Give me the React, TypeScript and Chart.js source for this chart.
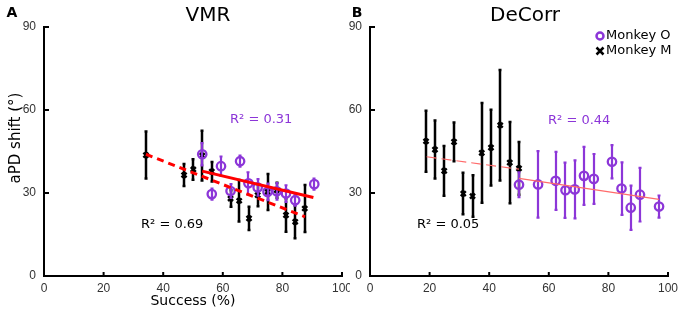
import { useEffect, useRef } from "react";
import { Chart, registerables } from "chart.js";
Chart.register(...registerables);

// ---------- data ----------
const xTickValues = [0, 20, 40, 60, 80, 100];
const yTickValues = [0, 30, 60, 90];

// VMR, Monkey M (black crosses)
const vmrMX = [34.2, 47, 50.1, 53.1, 56.3, 62.6, 65.5, 68.8, 71.7, 75, 78.1, 81.2, 84.3, 87.5];
const vmrMY = [43.7, 36.5, 38.5, 43.5, 37.7, 28, 27.2, 20.8, 29.2, 30.4, 31, 22, 19.6, 24.4];
const vmrMErr = [8.5, 4, 3.7, 9, 3.5, 3, 7.5, 4.2, 4, 6.5, 2.7, 6, 6, 8.5];
// VMR, Monkey O (purple circles)
const vmrOX = [53.1, 56.3, 59.4, 62.6, 65.8, 68.6, 71.7, 75, 78.1, 81.2, 84.3, 90.7];
const vmrOY = [44, 29.6, 39.7, 30.7, 41.5, 33.5, 32, 30.4, 30.6, 29.8, 27.4, 33.2];
const vmrOErr = [4, 2, 3.5, 2.5, 2, 4, 3, 3, 3, 3, 2, 2];
// VMR fits
const vmrFitMX = [34.2, 87.6];
const vmrFitMY = [44, 21.4];
const vmrFitOX = [53.1, 90.4];
const vmrFitOY = [37.9, 28.4];

// DeCorr, Monkey M
const decMX = [18.8, 21.8, 24.9, 28.2, 31.3, 34.4, 37.5, 40.6, 43.7, 46.9, 50];
const decMY = [48.7, 45.7, 38, 48.5, 29.8, 28.9, 44.5, 46.4, 54.5, 41, 38.9];
const decMErr = [11, 10.5, 9, 7, 7.5, 7.5, 18, 13.7, 20, 14.7, 9.5];
// DeCorr, Monkey O
const decOX = [50, 56.4, 62.3, 65.6, 68.7, 71.8, 75.1, 81.2, 84.4, 87.5, 90.6, 97];
const decOY = [33, 33.1, 34.4, 31, 31.3, 36.2, 35.1, 41.3, 31.6, 24.7, 29.4, 25.1];
const decOErr = [4.5, 12, 10.5, 10, 10.5, 10.5, 9, 6, 9.5, 8, 9.7, 4];
// DeCorr fits
const decFitMX = [19, 50];
const decFitMY = [43.1, 38.6];
const decFitOX = [50, 97];
const decFitOY = [35.3, 27.7];

const r2Labels = ["R² = 0.31", "R² = 0.69", "R² = 0.44", "R² = 0.05"];
const legendLabels = ["Monkey O", "Monkey M"];

// ---------- styles ----------
const PURPLE = "#8c36d8";
const FONT = "'DejaVu Sans', Verdana, sans-serif";
const TICK_FONT = "'Liberation Sans', Arial, sans-serif";

const pts = (xs: number[], ys: number[]) => xs.map((x, i) => ({ x, y: ys[i] }));

const errorBarPlugin = {
  id: "errbars",
  beforeDatasetDraw(chart: any, args: any) {
    const ds = chart.data.datasets[args.index];
    const err = ds.errors as number[] | undefined;
    if (!err) return;
    const xs = chart.scales.x;
    const ys = chart.scales.y;
    const ctx = chart.ctx;
    ctx.save();
    ctx.strokeStyle = ds.borderColor;
    ctx.lineWidth = ds.errWidth;
    ds.data.forEach((p: any, i: number) => {
      const x = Math.round(xs.getPixelForValue(p.x));
      const y1 = ys.getPixelForValue(p.y - err[i]);
      const y2 = ys.getPixelForValue(p.y + err[i]);
      ctx.beginPath();
      ctx.moveTo(x, y1);
      ctx.lineTo(x, y2);
      ctx.moveTo(x - 1.5, y1);
      ctx.lineTo(x + 1.5, y1);
      ctx.moveTo(x - 1.5, y2);
      ctx.lineTo(x + 1.5, y2);
      ctx.stroke();
    });
    ctx.restore();
  },
};

type TextItem = { text: string; x: number; y: number; font: string; color: string; align?: CanvasTextAlign; rotate?: boolean };

function makeDecorPlugin(offsetX: number, texts: TextItem[], legend: boolean) {
  return {
    id: "decor",
    afterDraw(chart: any) {
      const ctx = chart.ctx;
      const xs = chart.scales.x;
      const ys = chart.scales.y;
      const area = chart.chartArea;
      ctx.save();
      // inward ticks
      ctx.strokeStyle = "#000";
      ctx.lineWidth = 2;
      xTickValues.slice(1).forEach((v) => {
        const x = xs.getPixelForValue(v);
        ctx.beginPath();
        ctx.moveTo(x, area.bottom);
        ctx.lineTo(x, area.bottom - 4);
        ctx.stroke();
      });
      yTickValues.slice(1).forEach((v) => {
        const y = ys.getPixelForValue(v);
        ctx.beginPath();
        ctx.moveTo(area.left, y);
        ctx.lineTo(area.left + 5, y);
        ctx.stroke();
      });
      // texts
      texts.forEach((t) => {
        ctx.save();
        ctx.font = t.font;
        ctx.fillStyle = t.color;
        ctx.textAlign = t.align || "left";
        ctx.textBaseline = "middle";
        ctx.translate(t.x - offsetX, t.y);
        if (t.rotate) ctx.rotate(-Math.PI / 2);
        ctx.fillText(t.text, 0, 0);
        ctx.restore();
      });
      if (legend) {
        const lx = 600 - offsetX;
        ctx.strokeStyle = PURPLE;
        ctx.lineWidth = 2.5;
        ctx.beginPath();
        ctx.arc(lx, 36, 3.5, 0, Math.PI * 2);
        ctx.stroke();
        ctx.strokeStyle = "#000";
        ctx.lineWidth = 2.5;
        ctx.beginPath();
        ctx.moveTo(lx - 3.5, 47.5);
        ctx.lineTo(lx + 3.5, 54.5);
        ctx.moveTo(lx + 3.5, 47.5);
        ctx.lineTo(lx - 3.5, 54.5);
        ctx.stroke();
        ctx.font = `13px ${FONT}`;
        ctx.fillStyle = "#000";
        ctx.textAlign = "left";
        ctx.textBaseline = "middle";
        ctx.fillText(legendLabels[0], lx + 6, 36);
        ctx.fillText(legendLabels[1], lx + 6, 51);
      }
      ctx.restore();
    },
  };
}

function buildDatasets(
  oX: number[], oY: number[], oErr: number[],
  mX: number[], mY: number[], mErr: number[],
  fOX: number[], fOY: number[], fMX: number[], fMY: number[],
  thick: boolean
) {
  const lineColor = thick ? "#ff0000" : "#ff6b6b";
  const lw = thick ? 3 : 1.2;
  return [
    { label: "fitO", data: pts(fOX, fOY), showLine: true, borderColor: lineColor, borderWidth: lw, pointRadius: 0, fill: false },
    { label: "fitM", data: pts(fMX, fMY), showLine: true, borderColor: lineColor, borderWidth: lw, borderDash: thick ? [7, 5] : [10, 5], pointRadius: 0, fill: false },
    { label: "O", data: pts(oX, oY), errors: oErr, errWidth: 2.2, pointStyle: "circle", pointRadius: 4.2, borderWidth: 2.3, borderColor: PURPLE, backgroundColor: "rgba(255,255,255,0)" },
    { label: "M", data: pts(mX, mY), errors: mErr, errWidth: 2.5, pointStyle: "crossRot", pointRadius: 3.5, borderWidth: 2.5, borderColor: "#000", backgroundColor: "#000" },
  ];
}

function buildOptions(axisW: number, padRight: number) {
  return {
    animation: false,
    responsive: false,
    maintainAspectRatio: false,
    events: [],
    layout: { padding: { top: 27, right: padRight, left: 0, bottom: 0 } },
    plugins: { legend: { display: false }, tooltip: { enabled: false }, title: { display: false } },
    scales: {
      x: {
        type: "linear",
        min: 0,
        max: 100,
        grid: { display: false, drawTicks: false },
        border: { display: true, color: "#000", width: 2 },
        ticks: { padding: 5, color: "#333", font: { family: TICK_FONT, size: 12 } },
        afterBuildTicks: (s: any) => { s.ticks = xTickValues.map((v) => ({ value: v })); },
        afterFit: (s: any) => { s.height = 36; s.paddingLeft = 0; s.paddingRight = 0; },
      },
      y: {
        type: "linear",
        min: 0,
        max: 90,
        grid: { display: false, drawTicks: false },
        border: { display: true, color: "#000", width: 2 },
        ticks: { padding: 8, color: "#333", font: { family: TICK_FONT, size: 12 } },
        afterBuildTicks: (s: any) => { s.ticks = yTickValues.map((v) => ({ value: v })); },
        afterFit: (s: any) => { s.width = axisW; s.paddingTop = 0; s.paddingBottom = 0; },
      },
    },
  };
}

const LEFT_OFF = 0;
const RIGHT_OFF = 336;

export default function App() {
  const leftRef = useRef<HTMLCanvasElement>(null);
  const rightRef = useRef<HTMLCanvasElement>(null);

  useEffect(() => {
    const leftTexts: TextItem[] = [
      { text: "A", x: 12, y: 13, font: `bold 14px ${FONT}`, color: "#000", align: "center" },
      { text: "VMR", x: 208, y: 16, font: `20px ${FONT}`, color: "#000", align: "center" },
      { text: "aPD shift (°)", x: 16, y: 138, font: `15px ${FONT}`, color: "#000", align: "center", rotate: true },
      { text: "Success (%)", x: 193, y: 301, font: `14px ${FONT}`, color: "#000", align: "center" },
      { text: r2Labels[0], x: 230, y: 120, font: `13px ${FONT}`, color: PURPLE },
      { text: r2Labels[1], x: 141, y: 225, font: `13px ${FONT}`, color: "#000" },
    ];
    const rightTexts: TextItem[] = [
      { text: "B", x: 357, y: 13, font: `bold 14px ${FONT}`, color: "#000", align: "center" },
      { text: "DeCorr", x: 525, y: 16, font: `20px ${FONT}`, color: "#000", align: "center" },
      { text: r2Labels[2], x: 548, y: 121, font: `13px ${FONT}`, color: PURPLE },
      { text: r2Labels[3], x: 417, y: 225, font: `13px ${FONT}`, color: "#000" },
    ];

    const left = new Chart(leftRef.current as HTMLCanvasElement, {
      type: "scatter",
      data: { datasets: buildDatasets(vmrOX, vmrOY, vmrOErr, vmrMX, vmrMY, vmrMErr, vmrFitOX, vmrFitOY, vmrFitMX, vmrFitMY, true) as any },
      options: buildOptions(44 - LEFT_OFF, 350 - 342) as any,
      plugins: [errorBarPlugin, makeDecorPlugin(LEFT_OFF, leftTexts, false)],
    });
    const right = new Chart(rightRef.current as HTMLCanvasElement, {
      type: "scatter",
      data: { datasets: buildDatasets(decOX, decOY, decOErr, decMX, decMY, decMErr, decFitOX, decFitOY, decFitMX, decFitMY, false) as any },
      options: buildOptions(370 - RIGHT_OFF, 680 - 668) as any,
      plugins: [errorBarPlugin, makeDecorPlugin(RIGHT_OFF, rightTexts, true)],
    });
    return () => {
      left.destroy();
      right.destroy();
    };
  }, []);

  return (
    <div style={{ position: "absolute", left: 0, top: 0, width: 680, height: 312, background: "#fff" }}>
      <canvas ref={leftRef} width={350} height={312} style={{ position: "absolute", left: LEFT_OFF, top: 0, width: 350, height: 312 }} />
      <canvas ref={rightRef} width={344} height={312} style={{ position: "absolute", left: RIGHT_OFF, top: 0, width: 344, height: 312 }} />
    </div>
  );
}
